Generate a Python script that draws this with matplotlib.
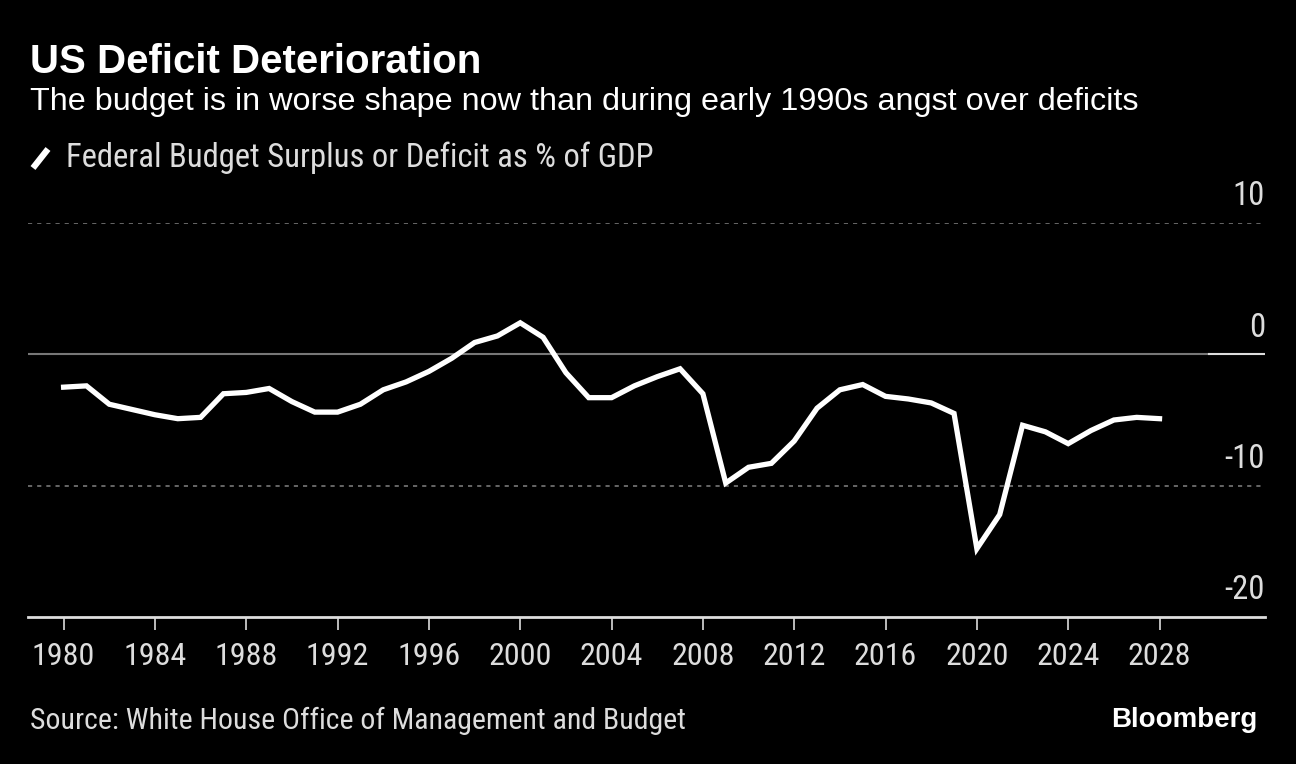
import numpy as np
import matplotlib.pyplot as plt
from matplotlib.transforms import blended_transform_factory

years = list(range(1980, 2029))
deficit = [-2.5, -2.4, -3.8, -4.2, -4.6, -4.9, -4.8, -3.0, -2.9, -2.6,
           -3.6, -4.4, -4.4, -3.8, -2.7, -2.1, -1.3, -0.3, 0.9, 1.4,
           2.4, 1.3, -1.4, -3.3, -3.3, -2.4, -1.7, -1.1, -3.0, -9.8,
           -8.6, -8.3, -6.6, -4.1, -2.7, -2.3, -3.2, -3.4, -3.7, -4.5,
           -14.8, -12.2, -5.4, -5.9, -6.8, -5.8, -5.0, -4.8, -4.9]
yticks = [10, 0, -10, -20]
xticks = list(range(1980, 2029, 4))

narrow = ['Roboto Condensed', 'DejaVu Sans']
regular = ['Liberation Sans', 'DejaVu Sans']

fig = plt.figure(figsize=(12.96, 7.64), dpi=100, facecolor='black')
ax = fig.add_axes([28/1296, 147/764, (1265-28)/1296, (617-223)/764])
ax.set_facecolor('black')

ax.plot(years, deficit, color='white', lw=3.8, solid_joinstyle='miter', zorder=5)

ax.set_xlim(1978.44, 2032.62)
ax.set_ylim(-20, 10)

# gridlines
for v in [10, -10]:
    ax.axhline(v, color='#777777', lw=1.2, ls=(0, (2.5, 3)), zorder=1)
ax.axhline(0, xmax=0.955, color='#777777', lw=1.5, zorder=1)
ax.axhline(0, xmin=0.955, color='#dddddd', lw=1.5, zorder=1)

for s in ['top', 'right', 'left']:
    ax.spines[s].set_visible(False)
ax.spines['bottom'].set_color('#dddddd')
ax.spines['bottom'].set_linewidth(2)

ax.set_yticks([])
ax.set_xticks(xticks)
ax.set_xticklabels([str(x) for x in xticks], family=narrow, fontsize=23, color='#dddddd')
ax.tick_params(axis='x', length=9, width=1.2, color='#dddddd', pad=9)

trans = blended_transform_factory(ax.transAxes, ax.transData)
for v in yticks:
    ax.text(1.0, v + 0.8, str(v), transform=trans, ha='right', va='bottom',
            family=narrow, fontsize=23.5, color='#dddddd')

fig.text(30/1296, 1 - 62/764, 'US Deficit Deterioration', family=regular,
         fontsize=29, fontweight='bold', color='white', va='center')
fig.text(30/1296, 1 - 102/764,
         'The budget is in worse shape now than during early 1990s angst over deficits',
         family=regular, fontsize=23.3, color='white', va='center')

# legend
fig.add_artist(plt.Line2D([33/1296, 48/1296], [1 - 168/764, 1 - 149/764],
                          color='white', lw=4.5, solid_capstyle='butt'))
fig.text(66/1296, 1 - 158/764, 'Federal Budget Surplus or Deficit as % of GDP',
         family=narrow, fontsize=23.5, color='#dddddd', va='center')

fig.text(30/1296, 1 - 721/764, 'Source: White House Office of Management and Budget',
         family=narrow, fontsize=21.5, color='#dddddd', va='center')
fig.text(1257/1296, 1 - 720/764, 'Bloomberg', family=regular, fontsize=20,
         fontweight='bold', color='white', va='center', ha='right')

fig.savefig('out.png', dpi=100, facecolor='black')
